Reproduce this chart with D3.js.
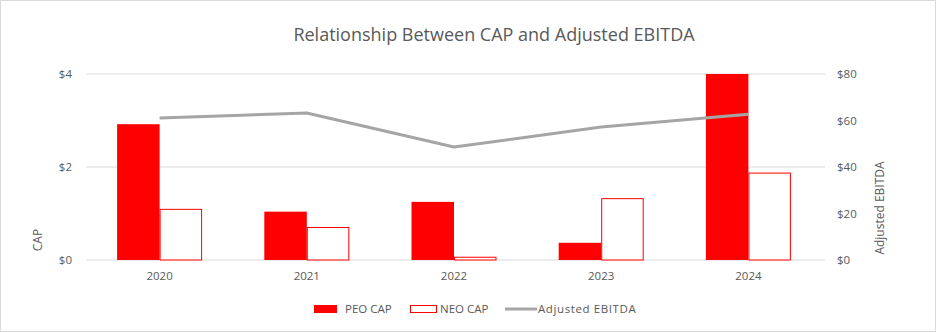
<!DOCTYPE html>
<html><head><meta charset="utf-8">
<script src="https://cdn.jsdelivr.net/npm/d3@7"></script>
<style>body{margin:0;background:#fff}svg{display:block}text{font-family:"Open Sans","Noto Sans",sans-serif;fill:#595959}</style>
</head><body>
<svg id="c" width="936" height="332"></svg>
<script>
const years = ["2020","2021","2022","2023","2024"];
const peoCap = [2.92, 1.04, 1.25, 0.37, 4.0];
const neoCap = [1.10, 0.71, 0.07, 1.33, 1.88];
const ebitda = [61.1, 63.2, 48.6, 57.2, 62.7];
const leftTicks = [0, 2, 4];
const rightTicks = [0, 20, 40, 60, 80];

const svg = d3.select("#c");
const W = 936, H = 332;
const x0 = 86, x1 = 822, yTop = 74, yBot = 260;

svg.append("rect").attr("x",0.5).attr("y",0.5).attr("width",W-1).attr("height",H-1)
  .attr("fill","#fff").attr("stroke","#d9d9d9");

const x = d3.scaleBand().domain(years).range([x0, x1]);
const yL = d3.scaleLinear().domain([0,4]).range([yBot, yTop]);
const yR = d3.scaleLinear().domain([0,80]).range([yBot, yTop]);
const barW = 42.5;

// gridlines
svg.append("g").selectAll("line").data(leftTicks).join("line")
  .attr("x1",x0).attr("x2",x1+3).attr("y1",d=>yL(d)).attr("y2",d=>yL(d))
  .attr("stroke","#d9d9d9").attr("stroke-width",1);

// left axis labels
svg.append("g").selectAll("text").data(leftTicks).join("text")
  .attr("x",72).attr("y",d=>yL(d)).attr("dy","0.35em").attr("text-anchor","end")
  .attr("font-size",11.5).text(d=>"$"+d);
// right axis labels
svg.append("g").selectAll("text").data(rightTicks).join("text")
  .attr("x",837).attr("y",d=>yR(d)).attr("dy","0.35em").attr("text-anchor","start")
  .attr("font-size",11.5).text(d=>"$"+d);

// bars
svg.append("g").selectAll("rect").data(peoCap).join("rect")
  .attr("x",(d,i)=>x(years[i])+x.bandwidth()/2-barW).attr("width",barW)
  .attr("y",d=>yL(d)).attr("height",d=>yBot-yL(d)).attr("fill","#ff0000");
svg.append("g").selectAll("rect").data(neoCap).join("rect")
  .attr("x",(d,i)=>x(years[i])+x.bandwidth()/2+0.5).attr("width",barW-1)
  .attr("y",d=>yL(d)+0.5).attr("height",d=>Math.max(0,yBot-yL(d)-0.5)).attr("fill","#fff")
  .attr("stroke","#ff0000").attr("stroke-width",1);

// line
const line = d3.line().x((d,i)=>x(years[i])+x.bandwidth()/2).y(d=>yR(d));
svg.append("path").datum(ebitda).attr("d",line).attr("fill","none")
  .attr("stroke","#a5a5a5").attr("stroke-width",3).attr("stroke-linejoin","round");

// x labels
svg.append("g").selectAll("text").data(years).join("text")
  .attr("x",d=>x(d)+x.bandwidth()/2).attr("y",280).attr("text-anchor","middle")
  .attr("font-size",11.5).text(d=>d);

// title
svg.append("text").attr("x",494).attr("y",41).attr("text-anchor","middle")
  .attr("font-size",18).text("Relationship Between CAP and Adjusted EBITDA");

// axis titles
svg.append("text").attr("transform","translate(42,240) rotate(-90)").attr("text-anchor","middle")
  .attr("font-size",12).text("CAP");
svg.append("text").attr("transform","translate(884,208) rotate(-90)").attr("text-anchor","middle")
  .attr("font-size",12).text("Adjusted EBITDA");

// legend
const lg = svg.append("g");
lg.append("rect").attr("x",314).attr("y",305).attr("width",23).attr("height",8).attr("fill","#ff0000");
lg.append("text").attr("x",345).attr("y",313).attr("font-size",11.5).text("PEO CAP");
lg.append("rect").attr("x",410.5).attr("y",305.5).attr("width",26).attr("height",7).attr("fill","#fff").attr("stroke","#ff0000");
lg.append("text").attr("x",440).attr("y",313).attr("font-size",11.5).text("NEO CAP");
lg.append("line").attr("x1",505).attr("x2",537).attr("y1",309).attr("y2",309).attr("stroke","#a5a5a5").attr("stroke-width",3);
lg.append("text").attr("x",538).attr("y",313).attr("font-size",11.5).attr("letter-spacing",0.6).text("Adjusted EBITDA");
</script>
</body></html>
